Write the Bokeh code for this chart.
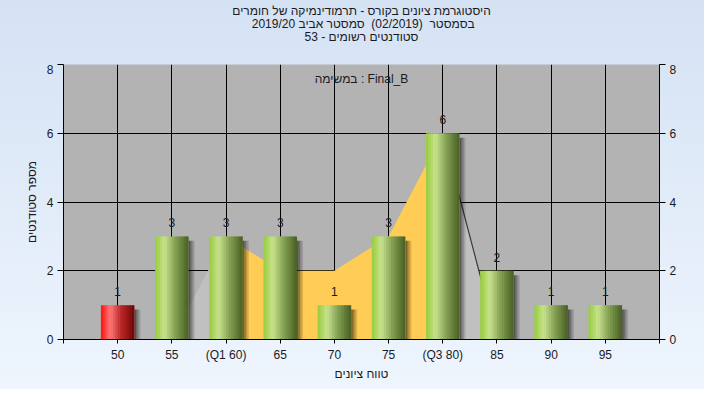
import numpy as np
from bokeh.plotting import figure
from bokeh.layouts import column
from bokeh.models import Range1d, LinearAxis, Label, FixedTicker, ColumnDataSource, Title
from bokeh.embed import file_html
from bokeh.resources import INLINE
from bokeh.core.properties import value

# ---------------- data ----------------
categories = ["50", "55", "(Q1 60)", "65", "70", "75", "(Q3 80)", "85", "90", "95"]
counts = [1, 3, 3, 3, 1, 3, 6, 2, 1, 1]
bar_kind = ["red", "green", "green", "green", "green", "green", "green", "green", "green", "green"]

# background area series (grey outside Q1..Q3, yellow between)
area_left_idx = [0, 1, 2]
area_left_val = [0, 0, 3]
area_mid_idx = [2, 3, 4, 5, 6]
area_mid_val = [3, 2, 2, 3, 6]
area_right_idx = [6, 7, 8, 9]
area_right_val = [6, 0, 0, 0]

y_ticks = [0, 2, 4, 6, 8]
title_lines = [
    "היסטוגרמת ציונים בקורס - תרמודינמיקה של חומרים",
    "בסמסטר\u00a0 (02/2019)\u00a0 סמסטר אביב 2019/20",
    "סטודנטים רשומים - 53",
]
legend_text = "במשימה : Final_B"
x_title = "טווח ציונים"
y_title = "מספר סטודנטים"

FONT = "Liberation Sans"
TXT = "#1a1a24"
W_PX, HEAD_H, MAIN_H = 704, 64, 325

# ---------------- header (three title lines) ----------------
head = figure(width=W_PX, height=HEAD_H, output_backend="svg", toolbar_location=None,
              x_range=Range1d(0, W_PX), y_range=Range1d(HEAD_H, 0),
              x_axis_location=None, y_axis_location=None, min_border=0)
head.border_fill_color = None
head.background_fill_color = None
head.outline_line_color = None
head.grid.visible = False
head.text(x=[352, 354, 352], y=[10, 23, 36], text=title_lines, text_align="center",
          text_baseline="middle", text_font=value(FONT), text_font_size="12px",
          text_color=TXT)

# ---------------- main figure ----------------
xs = [i + 1 for i in range(len(categories))]

p = figure(width=W_PX, height=MAIN_H, output_backend="svg", toolbar_location=None,
           x_range=Range1d(0, len(categories) + 1), y_range=Range1d(0, 8),
           min_border_left=63, min_border_right=45, min_border_top=0, min_border_bottom=50)
p.border_fill_color = None
p.outline_line_color = None
p.background_fill_color = "#b3b3b3"

# x axis title as a bottom title (it is centred left of the frame centre)
p.add_layout(Title(text=x_title, align="center", offset=-28, text_font=FONT,
                   text_font_size="12px", text_font_style="normal",
                   text_color=TXT, standoff=0), "below")

# axes
p.xaxis.ticker = FixedTicker(ticks=[0] + xs + [len(categories) + 1])
overrides = {x: c for x, c in zip(xs, categories)}
overrides[0] = ""
overrides[len(categories) + 1] = ""
p.xaxis.major_label_overrides = overrides
p.yaxis.ticker = FixedTicker(ticks=y_ticks)
p.yaxis.axis_label = y_title

raxis = LinearAxis(ticker=FixedTicker(ticks=y_ticks))
p.add_layout(raxis, "right")

for ax in [p.xaxis[0], p.yaxis[0], raxis]:
    ax.axis_line_color = "black"
    ax.major_tick_line_color = "black"
    ax.minor_tick_line_color = None
    ax.major_tick_in = 0
    ax.major_tick_out = 6
    ax.major_label_text_font = FONT
    ax.major_label_text_font_size = "12px"
    ax.major_label_text_color = TXT
    ax.major_label_standoff = 4
    ax.axis_label_text_font = FONT
    ax.axis_label_text_font_size = "12px"
    ax.axis_label_text_font_style = "normal"
    ax.axis_label_text_color = TXT
p.xaxis.major_tick_out = 4
p.yaxis.axis_label_standoff = 5

p.xgrid.ticker = FixedTicker(ticks=xs)
p.ygrid.ticker = FixedTicker(ticks=y_ticks[1:])
for g in [p.xgrid[0], p.ygrid[0]]:
    g.grid_line_color = "black"
    g.grid_line_width = 1

# ---------------- areas ----------------
lx = [xs[i] for i in area_left_idx]
mx = [xs[i] for i in area_mid_idx]
rx = [xs[i] for i in area_right_idx]
p.varea(x=lx, y1=[0] * len(lx), y2=area_left_val, fill_color="#c0c0c0")
p.varea(x=rx, y1=[0] * len(rx), y2=area_right_val, fill_color="#c0c0c0")
p.varea(x=mx, y1=[0] * len(mx), y2=area_mid_val, fill_color="#ffcc55")
p.line(x=rx, y=area_right_val, line_color="#3a3a3a", line_width=1.2)
p.line(x=lx[:2], y=area_left_val[:2], line_color="#3a3a3a", line_width=1.2)

# ---------------- bars ----------------
W = 0.62
N = 14

def grad(stops, t):
    ts = [s[0] for s in stops]
    out = []
    for ch in range(3):
        out.append(int(round(np.interp(t, ts, [s[1][ch] for s in stops]))))
    return "#%02x%02x%02x" % tuple(out)

green_stops = [(0.0, (150, 204, 58)), (0.28, (200, 226, 142)), (0.6, (132, 162, 84)), (1.0, (72, 94, 34))]
red_stops = [(0.0, (255, 14, 14)), (0.28, (255, 120, 120)), (0.6, (186, 40, 40)), (1.0, (110, 6, 6))]

sh = dict(left=[], right=[], top=[], bottom=[], alpha=[])
shades = [0.55, 0.4, 0.25, 0.12]
for x, v in zip(xs, counts):
    for k, a in enumerate(shades):
        sh["left"].append(x + W / 2 + k * 0.028)
        sh["right"].append(x + W / 2 + (k + 1) * 0.028)
        sh["top"].append(v - 0.13)
        sh["bottom"].append(0)
        sh["alpha"].append(a)
p.quad(source=ColumnDataSource(sh), left="left", right="right", top="top", bottom="bottom",
       fill_color="black", fill_alpha="alpha", line_color=None)

st = dict(left=[], right=[], top=[], bottom=[], color=[])
for x, v, kind in zip(xs, counts, bar_kind):
    stops = red_stops if kind == "red" else green_stops
    for k in range(N):
        l = x - W / 2 + k * W / N
        r = x + W / 2 if k == N - 1 else l + W / N + 0.02
        st["left"].append(l)
        st["right"].append(r)
        st["top"].append(v)
        st["bottom"].append(0)
        st["color"].append(grad(stops, (k + 0.5) / N))
p.quad(source=ColumnDataSource(st), left="left", right="right", top="top", bottom="bottom",
       fill_color="color", line_color=None)

# value labels
p.text(x=xs, y=counts, text=[str(c) for c in counts], y_offset=-9,
       text_align="center", text_baseline="bottom", text_font=value(FONT),
       text_font_size="12px", text_color=TXT)

# legend-like caption
p.add_layout(Label(x=5.5, y=8, y_offset=-14, text=legend_text, text_align="center",
                   text_baseline="middle", text_font=FONT, text_font_size="12px",
                   text_color=TXT))

layout = column(head, p, spacing=0,
                styles={"background": "linear-gradient(#d4e2f4, #eef5fd)"})

open("out.html", "w").write(file_html(layout, INLINE))
